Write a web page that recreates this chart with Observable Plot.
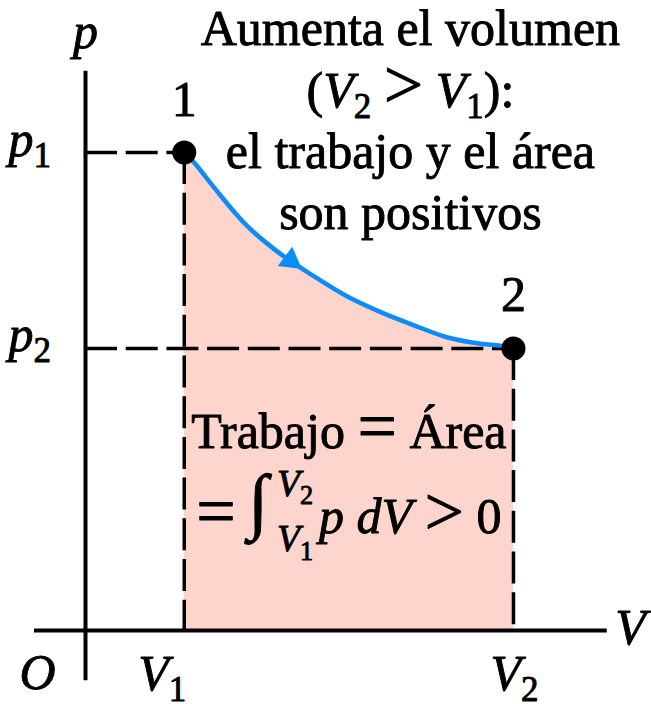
<!DOCTYPE html>
<html>
<head>
<meta charset="utf-8">
<script src="https://cdn.jsdelivr.net/npm/d3@7"></script>
<script src="https://cdn.jsdelivr.net/npm/@observablehq/plot@0.6"></script>
<style>
  html, body { margin: 0; padding: 0; background: #fff; }
  #chart text { stroke: #000; stroke-width: 0.9px; stroke-linejoin: round; }
</style>
</head>
<body>
<div id="chart"></div>
<script>
// Expansion path on the p–V diagram, from state 1 to state 2
const volume   = [3, 3.3, 3.9, 4.9, 5.9, 6.9, 8, 9, 10, 11, 12, 12.6, 13];
const pressure = [10, 9.79, 9.27, 8.47, 7.89, 7.43, 6.97, 6.65, 6.38, 6.13, 6.0, 5.96, 5.9];

// End states
const stateNames = ["1", "2"];
const stateV = [3, 13];
const stateP = [10, 5.9];

// Tick labels (markup: <i> italic, <sub> subscript, <op> large operator)
const pTickLabels = ["<i>p</i><sub>1</sub>", "<i>p</i><sub>2</sub>"];
const vTickLabels = ["<i>V</i><sub>1</sub>", "<i>V</i><sub>2</sub>"];

// Annotation lines
const noteLines = [
  "Aumenta el volumen",
  "(<i>V</i><sub>2</sub> <op>></op> <i>V</i><sub>1</sub>):",
  "el trabajo y el área",
  "son positivos"
];
const areaLines = [
  "Trabajo <op>=</op> Área",
  "<op>=</op> <big>∫</big><hi><i>V</i><sub>2</sub></hi><lo><i>V</i><sub>1</sub></lo><i>p dV</i> <op>></op> 0"
];

// Direction marker on the path
const arrowV = [6.23];
const arrowP = [7.74];

// ---- layout constants ----
const W = 651, H = 704;
const FONT = "Liberation Serif";
const FS = 50;
const BLUE = "#0a8cff";
const PINK = "#fdd5cc";
const axisV = [-1.55, 15.85];   // extent of the V axis line
const axisP = [-1.05, 11.7];    // extent of the p axis line
const noteX = 9.87, noteTop = 12.24, noteStep = 1.283;
const areaX = (stateV[0] + stateV[1]) / 2, areaTop = 3.81, areaStep = 1.78;

const path = volume.map((v, i) => ({V: v, p: pressure[i]}));
const idx = stateNames.map((_, i) => i);

const svg = Plot.plot({
  width: W,
  height: H,
  margin: 0,
  x: {domain: [-2.582, 17.193], range: [0, W], axis: null},
  y: {domain: [-1.548, 13.18], range: [H, 0], axis: null},
  style: {fontFamily: FONT, background: "#fff", color: "#000"},
  marks: [
    // work = area under the path
    Plot.areaY(path, {x: "V", y: "p", fill: PINK, curve: "catmull-rom"}),
    // dashed guides to the axes
    Plot.ruleY(idx, {y: i => stateP[i], x1: 0, x2: i => stateV[i], stroke: "#000", strokeWidth: 3.5, strokeDasharray: "32,8.7"}),
    Plot.ruleX(idx, {x: i => stateV[i], y1: i => stateP[i], y2: 0, stroke: "#000", strokeWidth: 3.5, strokeDasharray: "32,8.7"}),
    // axes
    Plot.ruleX([0], {y1: axisP[0], y2: axisP[1], stroke: "#000", strokeWidth: 4}),
    Plot.ruleY([0], {x1: axisV[0], x2: axisV[1], stroke: "#000", strokeWidth: 4}),
    // process path and its direction
    Plot.line(path, {x: "V", y: "p", stroke: BLUE, strokeWidth: 4.5, curve: "catmull-rom"}),
    Plot.dot(arrowV, {x: d => d, y: (d, i) => arrowP[i], symbol: "triangle", r: 9, rotate: 127, fill: BLUE, stroke: "none"}),
    // states
    Plot.dot(idx, {x: i => stateV[i], y: i => stateP[i], r: 12, fill: "#000", stroke: "none"}),
    Plot.text(idx, {x: i => stateV[i], y: i => stateP[i], text: i => stateNames[i], fontSize: FS, lineAnchor: "bottom", dy: -37}),
    // axis labels
    Plot.text(["<i>p</i>"], {x: 0, y: axisP[1], text: d => d, fontSize: FS, lineAnchor: "bottom", dy: -23}),
    Plot.text(["<i>V</i>"], {x: axisV[1], y: 0, text: d => d, fontSize: FS, lineAnchor: "bottom", textAnchor: "start", dx: 8, dy: 13}),
    Plot.text(["<i>O</i>"], {x: 0, y: 0, text: d => d, fontSize: FS, lineAnchor: "bottom", dx: -48, dy: 58}),
    Plot.text(idx, {x: 0, y: i => stateP[i], text: i => pTickLabels[i], fontSize: FS, lineAnchor: "bottom", textAnchor: "start", dx: -77, dy: 3}),
    Plot.text([0], {x: i => stateV[i], y: 0, text: i => vTickLabels[i], fontSize: FS, lineAnchor: "bottom", dx: -22, dy: 59}),
    Plot.text([1], {x: i => stateV[i], y: 0, text: i => vTickLabels[i], fontSize: FS, lineAnchor: "bottom", dx: 1, dy: 59}),
    // annotations
    Plot.text(noteLines, {x: noteX, y: (d, i) => noteTop - i * noteStep, text: d => d, fontSize: FS, lineAnchor: "bottom"}),
    Plot.text(areaLines, {x: areaX, y: (d, i) => areaTop - i * areaStep, text: d => d, fontSize: FS, lineAnchor: "bottom"})
  ]
});

document.getElementById("chart").append(svg);

// Turn the small markup in text marks into styled tspans.
const SVGNS = "http://www.w3.org/2000/svg";
const TAG = /(<\/?(?:i|sub|hi|lo|big|op)>)/;
function richText(el) {
  const src = el.textContent;
  if (!TAG.test(src)) return;
  const base = parseFloat(getComputedStyle(el).fontSize) || FS;
  const tokens = src.split(TAG).filter(s => s !== "");
  el.textContent = "";
  const stack = [{italic: false, size: base, shift: 0, cls: null}];
  let cur = 0;
  for (const t of tokens) {
    const top = stack[stack.length - 1];
    const m = t.match(/^<(\/?)(i|sub|hi|lo|big|op)>$/);
    if (m) {
      if (m[1]) { stack.pop(); continue; }
      const s = {...top};
      switch (m[2]) {
        case "i": s.italic = true; break;
        case "sub": s.shift = top.shift + 0.22 * top.size; s.size = top.size * 0.7; s.italic = false; break;
        case "hi": s.shift = top.shift - 0.75 * top.size; s.size = top.size * 0.75; s.cls = "hi"; break;
        case "lo": s.shift = top.shift + 0.36 * top.size; s.size = top.size * 0.75; s.cls = "lo"; break;
        case "big": s.size = top.size * 1.45; s.shift = top.shift - 0.16 * top.size; s.italic = true; break;
        case "op": s.size = top.size * 1.4; s.shift = top.shift + 0.03 * top.size; break;
      }
      stack.push(s);
      continue;
    }
    const ts = document.createElementNS(SVGNS, "tspan");
    ts.textContent = t;
    ts.setAttribute("font-size", top.size);
    ts.setAttribute("font-style", top.italic ? "italic" : "normal");
    if (top.shift !== cur) { ts.setAttribute("dy", top.shift - cur); cur = top.shift; }
    if (top.cls) ts.setAttribute("class", top.cls);
    el.appendChild(ts);
  }
  // stack integral limits: lower limit starts under the upper one
  const his = [...el.querySelectorAll("tspan.hi")];
  const los = [...el.querySelectorAll("tspan.lo")];
  if (his.length && los.length) {
    const hiW = d3.sum(his, t => t.getComputedTextLength());
    const loW = d3.sum(los, t => t.getComputedTextLength());
    his[0].setAttribute("dx", 9);
    los[0].setAttribute("dx", -hiW);
    const next = los[los.length - 1].nextElementSibling;
    if (next) next.setAttribute("dx", Math.max(0, hiW - loW) + 6);
  }
}
svg.querySelectorAll("text").forEach(richText);
</script>
</body>
</html>
